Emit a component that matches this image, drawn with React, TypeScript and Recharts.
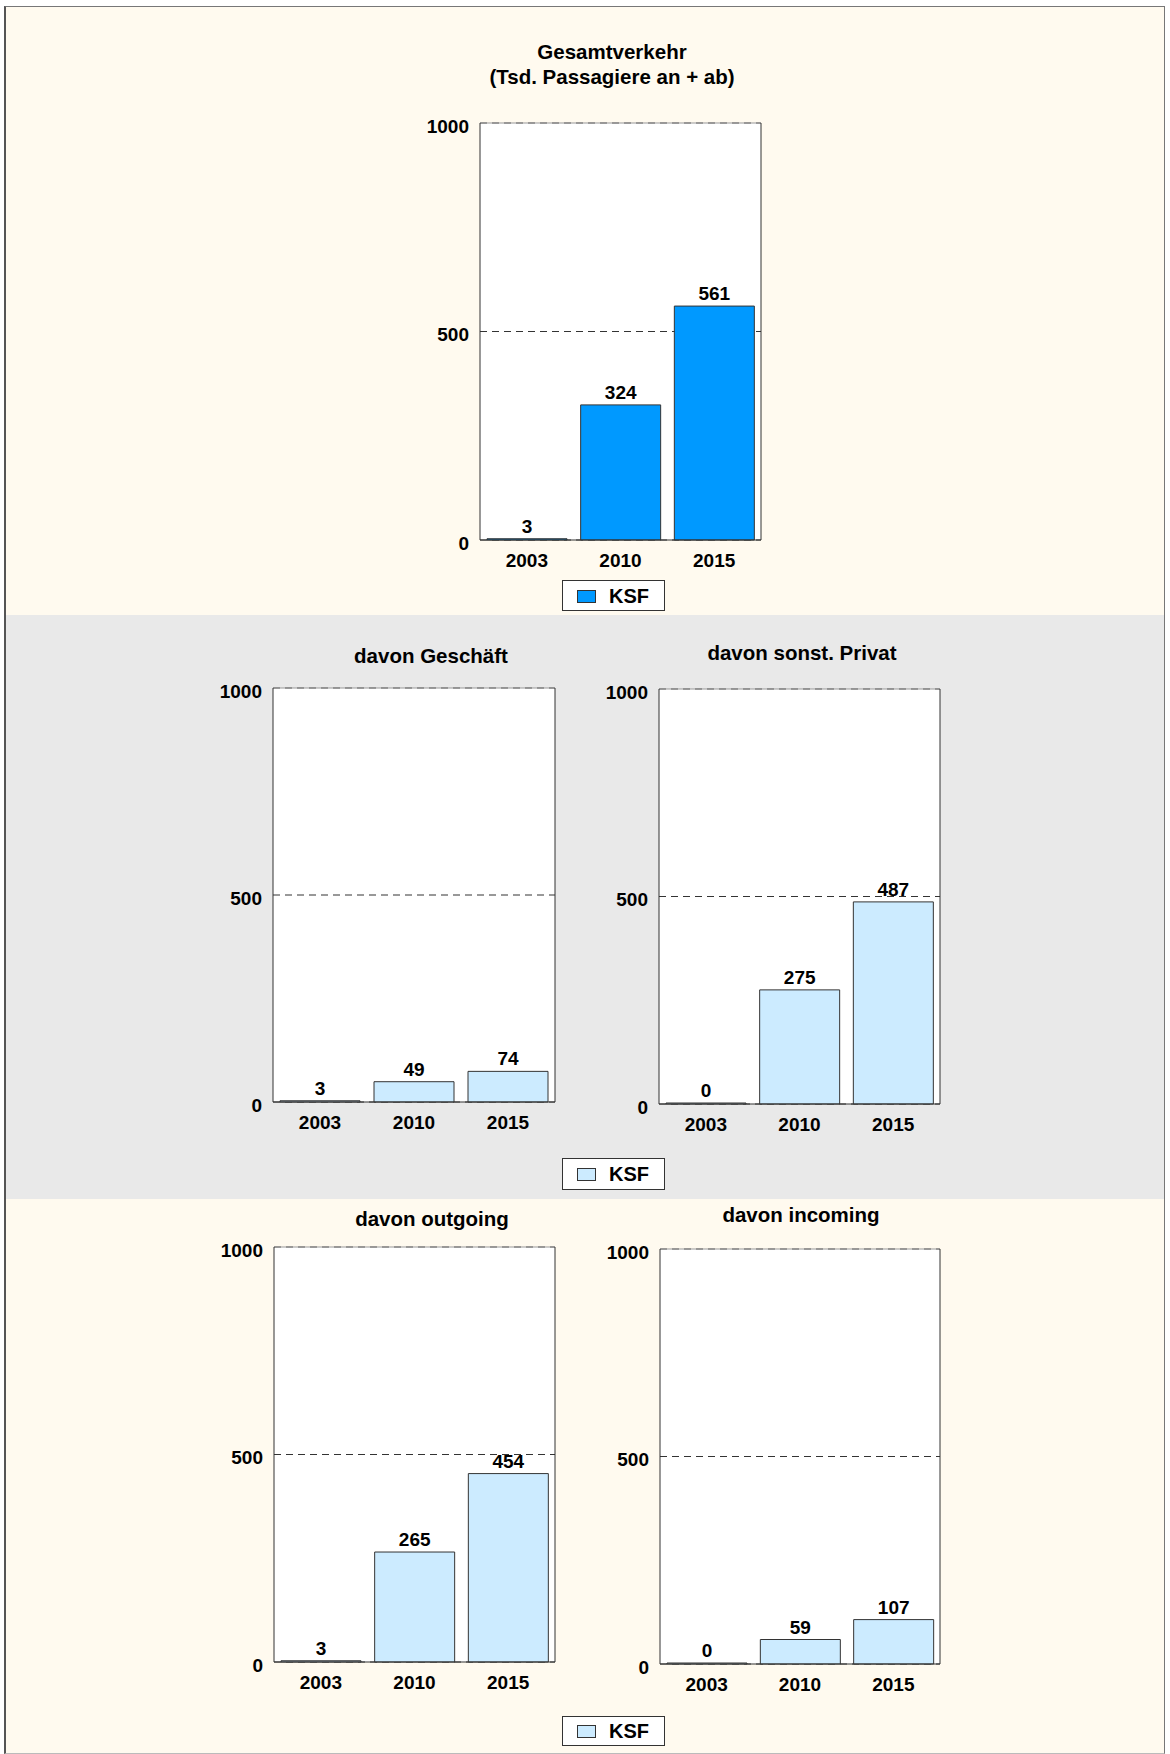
import React from "react";
import { BarChart, Bar, XAxis, YAxis, CartesianGrid, LabelList, ReferenceLine } from "recharts";

const categories = ["2003", "2010", "2015"];
const gesamtValues = [3, 324, 561];
const geschaeftValues = [3, 49, 74];
const privatValues = [0, 275, 487];
const outgoingValues = [3, 265, 454];
const incomingValues = [0, 59, 107];
const yTicks = [0, 500, 1000];
const seriesName = "KSF";

const FONT = "'Liberation Sans', Arial, sans-serif";
const DARK_BLUE = "#0099FF";
const LIGHT_BLUE = "#CCEBFF";
const CREAM = "#FFFAEF";
const GRAY = "#E9E9E9";

const toRows = (values: number[]) => categories.map((c, i) => ({ year: c, value: values[i] }));

// y tick labels sit a few px below their gridline in the original
function YTick(props: any) {
  const { x, y, payload } = props;
  return (
    <text x={x} y={y + 3} textAnchor="end" dy="0.355em" fill="#000" fontSize={19} fontWeight={700} fontFamily={FONT}>
      {payload.value}
    </text>
  );
}

interface PanelProps {
  values: number[];
  color: string;
  x: number;
  y: number;
  w: number;
  h: number;
}

function Panel({ values, color, x, y, w, h }: PanelProps) {
  const tickStyle = { fill: "#000", fontSize: 19, fontWeight: 700, fontFamily: FONT };
  return (
    <div style={{ position: "absolute", left: x - 80, top: y - 20 }}>
      <BarChart
        width={w + 90}
        height={h + 60}
        data={toRows(values)}
        margin={{ top: 20, right: 9, bottom: 0, left: 0 }}
        barSize={80}
      >
        <CartesianGrid vertical={false} stroke="#333" strokeDasharray="7 5" fill="#fff" />
        <ReferenceLine y={1000} stroke="#999" strokeWidth={1} ifOverflow="visible" />
        <XAxis
          dataKey="year"
          interval={0}
          height={40}
          tickLine={false}
          tickSize={0}
          tickMargin={14}
          axisLine={{ stroke: "#333" }}
          tick={tickStyle}
        />
        <YAxis
          domain={[0, 1000]}
          ticks={yTicks}
          width={80}
          tickLine={false}
          tickSize={0}
          tickMargin={11}
          axisLine={{ stroke: "#333" }}
          tick={<YTick />}
        />
        <YAxis
          yAxisId="border"
          orientation="right"
          domain={[0, 1000]}
          width={1}
          tick={false}
          tickLine={false}
          axisLine={{ stroke: "#333" }}
        />
        <Bar dataKey="value" name={seriesName} fill={color} stroke="#333" strokeWidth={1} minPointSize={1} isAnimationActive={false}>
          <LabelList dataKey="value" position="top" offset={6} fill="#000" fontSize={19} fontWeight={700} fontFamily={FONT} />
        </Bar>
      </BarChart>
    </div>
  );
}

function Title({ lines, cx, cy }: { lines: string[]; cx: number; cy: number }) {
  return (
    <div
      style={{
        position: "absolute",
        left: cx - 200,
        top: cy - 13,
        width: 400,
        textAlign: "center",
        fontFamily: FONT,
        fontWeight: 700,
        fontSize: 20.5,
        lineHeight: "25px",
        color: "#000",
      }}
    >
      {lines.map((l) => (
        <div key={l}>{l}</div>
      ))}
    </div>
  );
}

function LegendBox({ top, h, color }: { top: number; h: number; color: string }) {
  return (
    <div
      style={{
        position: "absolute",
        left: 562,
        top,
        width: 103,
        height: h,
        boxSizing: "border-box",
        border: "1px solid #333",
        background: "#fff",
      }}
    >
      <div
        style={{
          position: "absolute",
          left: 14,
          top: h / 2 - 7,
          width: 19,
          height: 13,
          boxSizing: "border-box",
          border: "1px solid #333",
          background: color,
        }}
      />
      <span
        style={{
          position: "absolute",
          left: 46,
          top: 0,
          lineHeight: `${h - 1}px`,
          fontFamily: FONT,
          fontWeight: 700,
          fontSize: 20,
          color: "#000",
        }}
      >
        {seriesName}
      </span>
    </div>
  );
}

export default function App() {
  return (
    <div style={{ position: "absolute", left: 0, top: 0, width: 1170, height: 1754, background: "#fff" }}>
      <div
        style={{
          position: "absolute",
          left: 4,
          top: 6,
          width: 1161,
          height: 1748,
          boxSizing: "border-box",
          borderTop: "1px solid #777",
          borderLeft: "2px solid #555",
          borderRight: "1px solid #777",
          borderBottom: "1px solid #bbb",
          overflow: "hidden",
        }}
      >
        <div style={{ position: "absolute", left: 0, top: 0, right: 0, height: 608, background: CREAM }} />
        <div style={{ position: "absolute", left: 0, top: 608, right: 0, height: 584, background: GRAY }} />
        <div style={{ position: "absolute", left: 0, top: 1192, right: 0, bottom: 0, background: CREAM }} />
      </div>

      <Title lines={["Gesamtverkehr", "(Tsd. Passagiere an + ab)"]} cx={612} cy={52} />
      <Panel values={gesamtValues} color={DARK_BLUE} x={480} y={123} w={281} h={417} />
      <LegendBox top={580} h={31} color={DARK_BLUE} />

      <Title lines={["davon Geschäft"]} cx={431} cy={656} />
      <Panel values={geschaeftValues} color={LIGHT_BLUE} x={273} y={688} w={282} h={414} />
      <Title lines={["davon sonst. Privat"]} cx={802} cy={653} />
      <Panel values={privatValues} color={LIGHT_BLUE} x={659} y={689} w={281} h={415} />
      <LegendBox top={1158} h={32} color={LIGHT_BLUE} />

      <Title lines={["davon outgoing"]} cx={432} cy={1219} />
      <Panel values={outgoingValues} color={LIGHT_BLUE} x={274} y={1247} w={281} h={415} />
      <Title lines={["davon incoming"]} cx={801} cy={1215} />
      <Panel values={incomingValues} color={LIGHT_BLUE} x={660} y={1249} w={280} h={415} />
      <LegendBox top={1716} h={30} color={LIGHT_BLUE} />
    </div>
  );
}
